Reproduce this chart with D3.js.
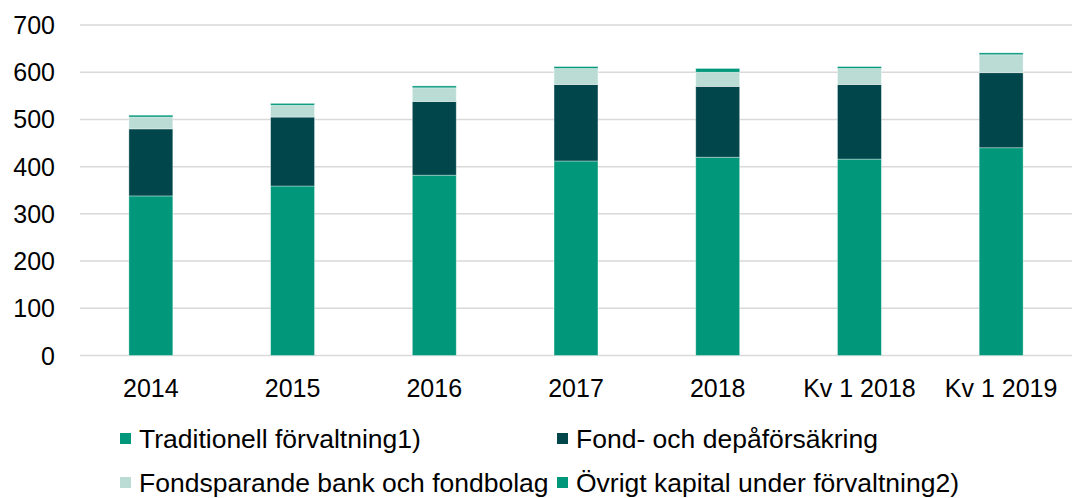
<!DOCTYPE html>
<html>
<head>
<meta charset="utf-8">
<script src="https://cdn.jsdelivr.net/npm/d3@7"></script>
<style>
  body { margin: 0; background: #ffffff; }
  text { font-family: "Liberation Sans", Arial, sans-serif; fill: #000000; }
</style>
</head>
<body>
<div id="chart"></div>
<script>
// Kategorier (x-axel)
const categories = ["2014", "2015", "2016", "2017", "2018", "Kv 1 2018", "Kv 1 2019"];

// Serier, miljarder kronor
const traditionell = [338, 359, 382, 412, 420, 416, 440];
const fondDepa     = [142, 146, 156, 162, 150, 158, 159];
const fondsparande = [25, 25, 29, 34, 30, 34, 38];
const ovrigt       = [4, 4, 4, 4, 8, 4, 4];

// Serienamn
const seriesNames = [
  "Traditionell förvaltning1)",
  "Fond- och depåförsäkring",
  "Fondsparande bank och fondbolag",
  "Övrigt kapital under förvaltning2)"
];

// Y-axelns ticks
const yTicks = [0, 100, 200, 300, 400, 500, 600, 700];

const colors = ["#00977a", "#00464a", "#bbdcd5", "#00977a"];

const width = 1072, height = 498;

// Tabell för stack
const table = categories.map((c, i) => ({
  cat: c,
  s0: traditionell[i],
  s1: fondDepa[i],
  s2: fondsparande[i],
  s3: ovrigt[i]
}));
const keys = ["s0", "s1", "s2", "s3"];
const stacked = d3.stack().keys(keys)(table);

// Skalor
const x = d3.scaleBand()
  .domain(categories)
  .range([80, 1072])
  .paddingInner(0.69)
  .paddingOuter(0.345);

const y = d3.scaleLinear()
  .domain([0, 700])
  .range([355.5, 25]);

const svg = d3.select("#chart")
  .append("svg")
  .attr("width", width)
  .attr("height", height);

// Stödlinjer
svg.append("g")
  .selectAll("line")
  .data(yTicks)
  .join("line")
  .attr("x1", 80)
  .attr("x2", 1072)
  .attr("y1", d => y(d))
  .attr("y2", d => y(d))
  .attr("stroke", "#d9d9d9")
  .attr("stroke-width", 1.5);

// Y-axelns etiketter
svg.append("g")
  .selectAll("text")
  .data(yTicks)
  .join("text")
  .attr("x", 55)
  .attr("y", d => y(d))
  .attr("dy", "0.36em")
  .attr("text-anchor", "end")
  .style("font-size", "25px")
  .text(d => d);

// Staplar
svg.append("g")
  .selectAll("g")
  .data(stacked)
  .join("g")
  .attr("fill", (d, i) => colors[i])
  .selectAll("rect")
  .data(d => d)
  .join("rect")
  .attr("x", d => x(d.data.cat))
  .attr("width", x.bandwidth())
  .attr("y", d => y(d[1]))
  .attr("height", d => y(d[0]) - y(d[1]))
  .attr("stroke", "rgba(255,255,255,0.45)")
  .attr("stroke-width", 0.8);

// X-axelns etiketter
svg.append("g")
  .selectAll("text")
  .data(categories)
  .join("text")
  .attr("x", d => x(d) + x.bandwidth() / 2)
  .attr("y", 397)
  .attr("text-anchor", "middle")
  .style("font-size", "25px")
  .text(d => d);

// Förklaring
const legendPos = [
  { x: 120, y: 448 },
  { x: 557, y: 448 },
  { x: 120, y: 492 },
  { x: 557, y: 492 }
];

const legend = svg.append("g")
  .selectAll("g")
  .data(seriesNames)
  .join("g")
  .attr("transform", (d, i) => "translate(" + legendPos[i].x + "," + legendPos[i].y + ")");

legend.append("rect")
  .attr("x", 0)
  .attr("y", -15)
  .attr("width", 11)
  .attr("height", 11)
  .attr("fill", (d, i) => colors[i]);

legend.append("text")
  .attr("x", 19)
  .attr("y", 0)
  .style("font-size", "26.5px")
  .text(d => d);
</script>
</body>
</html>
